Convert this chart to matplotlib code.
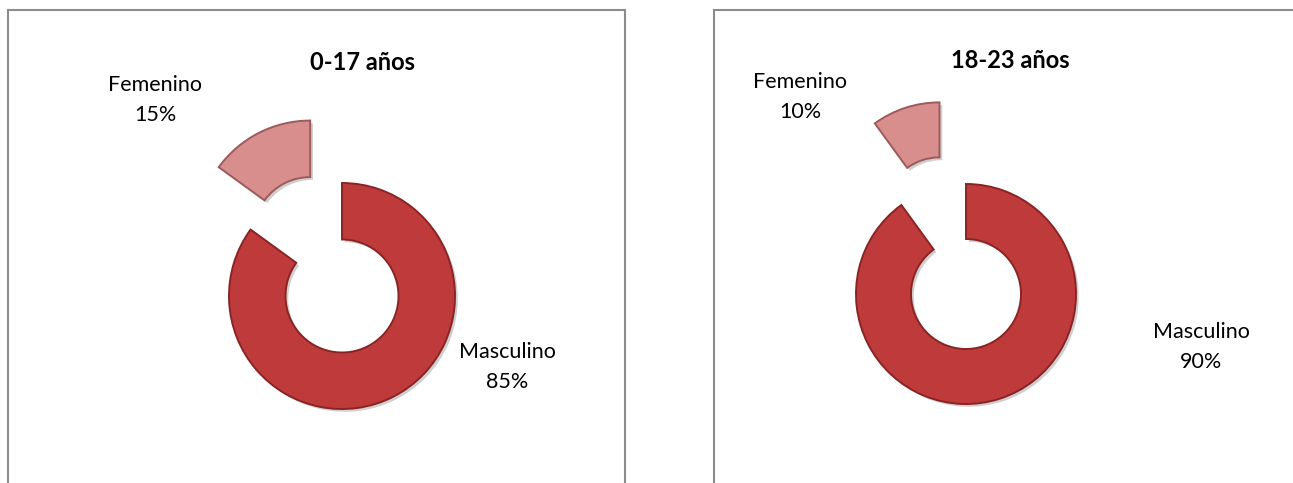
import matplotlib
matplotlib.use("Agg")
import matplotlib.pyplot as plt
import matplotlib.patheffects as pe
from matplotlib.patches import Rectangle

W, H = 1293, 483

# data
labels = ["Masculino", "Femenino"]
values_0_17 = [85, 15]
values_18_23 = [90, 10]
titles = ["0-17 años", "18-23 años"]

colors = ["#BF3B3B", "#D98E8E"]
edges = ["#8A2424", "#9C5A5A"]

plt.rcParams['font.family'] = ['Lato', 'DejaVu Sans']

fig = plt.figure(figsize=(W / 100, H / 100), dpi=100)


def px(x, y):
    # image pixel coords (y down) -> figure fraction
    return x / W, 1 - y / H


# panel borders
for x0, x1 in [(8, 625), (714, 1300)]:
    fig.patches.append(Rectangle((x0 / W, -0.1), (x1 - x0) / W, 1.1 - 10 / H,
                                 transform=fig.transFigure, fill=False,
                                 edgecolor="#8c8c8c", linewidth=1.5))


def donut(cx, cy, r, vals, explode):
    lim = 2.0
    side = 2 * lim * r
    ax = fig.add_axes([(cx - side / 2) / W, 1 - (cy + side / 2) / H, side / W, side / H])
    wedges, _ = ax.pie(vals, startangle=90, counterclock=False, colors=colors,
                       explode=[0, explode],
                       wedgeprops=dict(width=0.5, linewidth=1.4))
    for w, ec in zip(wedges, edges):
        w.set_edgecolor(ec)
        w.set_path_effects([pe.SimplePatchShadow(offset=(2, -2), shadow_rgbFace="#777777", alpha=0.35),
                            pe.Normal()])
    ax.set_xlim(-lim, lim)
    ax.set_ylim(-lim, lim)
    ax.axis("off")
    return ax


donut(342, 296, 113, values_0_17, 0.62)
donut(966, 294, 110, values_18_23, 0.78)

fs = 15.5
ls = 1.6
# titles
fig.text(*px(363, 62), titles[0], ha="center", va="center", fontsize=17, fontweight="bold")
fig.text(*px(1010, 60), titles[1], ha="center", va="center", fontsize=17, fontweight="bold")

# data labels
fig.text(*px(155, 100), f"{labels[1]}\n{values_0_17[1]}%", ha="center", va="center",
         fontsize=fs, linespacing=ls)
fig.text(*px(507, 367), f"{labels[0]}\n{values_0_17[0]}%", ha="center", va="center",
         fontsize=fs, linespacing=ls)
fig.text(*px(800, 97), f"{labels[1]}\n{values_18_23[1]}%", ha="center", va="center",
         fontsize=fs, linespacing=ls)
fig.text(*px(1201, 347), f"{labels[0]}\n{values_18_23[0]}%", ha="center", va="center",
         fontsize=fs, linespacing=ls)

fig.savefig("out.png", dpi=100)
